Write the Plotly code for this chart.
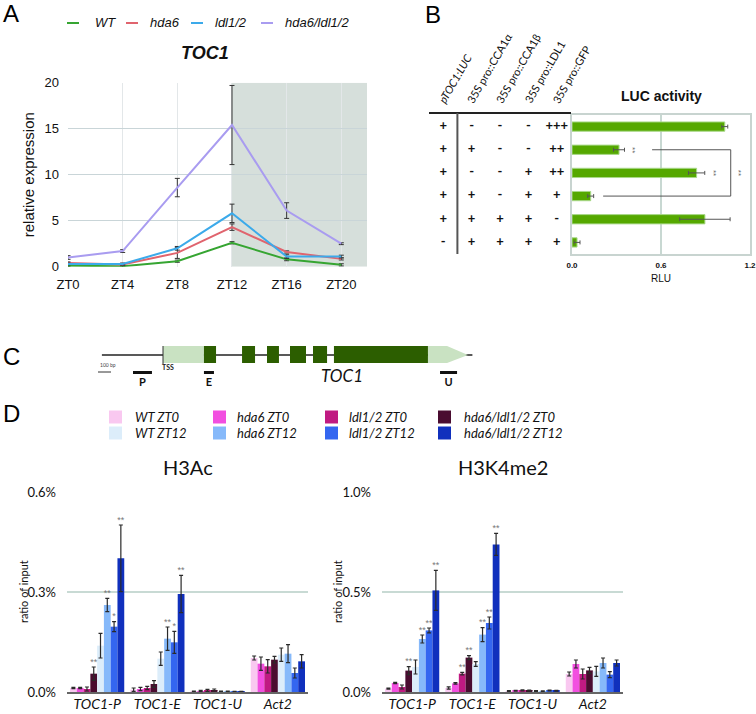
import plotly.graph_objects as go

W, H = 756, 714
def px(x): return x / W
def py(y): return 1 - y / H

# ---------------- Panel A data: TOC1 relative expression ----------------
zt_labels = ["ZT0", "ZT4", "ZT8", "ZT12", "ZT16", "ZT20"]
genotypes = ["WT", "hda6", "ldl1/2", "hda6/ldl1/2"]
toc1_wt = [0.1, 0.05, 0.6, 2.6, 0.8, 0.2]
toc1_wt_err = [0.1, 0.08, 0.12, 0.12, 0.15, 0.12]
toc1_hda6 = [0.4, 0.25, 1.5, 4.3, 1.6, 0.85]
toc1_hda6_err = [0.12, 0.1, 0.6, 0.35, 0.12, 0.12]
toc1_ldl = [0.3, 0.3, 2.0, 5.8, 1.1, 1.1]
toc1_ldl_err = [0.1, 0.1, 0.2, 1.0, 0.2, 0.15]
toc1_dbl = [1.0, 1.7, 8.6, 15.4, 6.1, 2.5]
toc1_dbl_err = [0.2, 0.15, 1.0, 4.3, 0.85, 0.1]
dark_start = 3  # ZT12 onwards shaded (dark period)

# ---------------- Panel B data: LUC activity ----------------
luc_columns = ["pTOC1:LUC", "35S pro::CCA1α", "35S pro::CCA1β", "35S pro::LDL1", "35S pro::GFP"]
luc_table = [
    ["+", "-", "-", "-", "+++"],
    ["+", "+", "-", "-", "++"],
    ["+", "-", "-", "+", "++"],
    ["+", "+", "-", "+", "+"],
    ["+", "+", "+", "+", "-"],
    ["-", "+", "+", "+", "+"],
]
luc_rlu = [1.03, 0.317, 0.84, 0.126, 0.896, 0.034]
luc_err = [0.02, 0.037, 0.055, 0.02, 0.17, 0.02]
luc_sig = ["", "**", "**", "", "", ""]
luc_ticks = [0.0, 0.6, 1.2]

# ---------------- Panel C data: TOC1 gene model (bp from TSS) ----------------
gene_span = (-470, 2380)
utr5 = (0, 315)
exons = [(315, 408), (608, 708), (800, 892), (977, 1100), (1154, 1262), (1315, 2038)]
utr3 = (2038, 2185, 2346)
amplicon_names = ["P", "E", "U"]
amplicon_start = [-231, 315, 2131]
amplicon_end = [-85, 392, 2262]
scale_bar = (-500, -400)

# ---------------- Panel D data: ChIP ratio of input (%) ----------------
regions = ["TOC1-P", "TOC1-E", "TOC1-U", "Act2"]
samples = ["WT ZT0", "hda6 ZT0", "ldl1/2 ZT0", "hda6/ldl1/2 ZT0",
           "WT ZT12", "hda6 ZT12", "ldl1/2 ZT12", "hda6/ldl1/2 ZT12"]
h3ac = [
    [0.012, 0.007, 0.002, 0.102],
    [0.012, 0.009, 0.003, 0.085],
    [0.009, 0.012, 0.005, 0.077],
    [0.055, 0.024, 0.006, 0.097],
    [0.139, 0.100, 0.002, 0.112],
    [0.261, 0.160, 0.002, 0.115],
    [0.196, 0.149, 0.001, 0.057],
    [0.401, 0.294, 0.001, 0.092],
]
h3ac_err = [
    [0.002, 0.005, 0.001, 0.006],
    [0.002, 0.005, 0.002, 0.020],
    [0.006, 0.005, 0.003, 0.020],
    [0.020, 0.010, 0.003, 0.010],
    [0.037, 0.020, 0.001, 0.020],
    [0.020, 0.035, 0.001, 0.027],
    [0.015, 0.033, 0.001, 0.015],
    [0.100, 0.056, 0.001, 0.020],
]
h3ac_sig = [
    ["", "", "", ""], ["", "", "", ""], ["", "", "", ""], ["**", "", "", ""],
    ["", "", "", ""], ["**", "**", "", ""], ["*", "*", "", ""], ["**", "**", "", ""],
]
h3k4 = [
    [0.017, 0.020, 0.005, 0.090],
    [0.045, 0.043, 0.006, 0.140],
    [0.025, 0.092, 0.008, 0.090],
    [0.107, 0.172, 0.007, 0.108],
    [0.125, 0.140, 0.005, 0.103],
    [0.265, 0.287, 0.004, 0.145],
    [0.308, 0.345, 0.008, 0.087],
    [0.508, 0.738, 0.006, 0.145],
]
h3k4_err = [
    [0.003, 0.006, 0.002, 0.010],
    [0.003, 0.004, 0.002, 0.020],
    [0.010, 0.006, 0.003, 0.025],
    [0.020, 0.010, 0.003, 0.015],
    [0.035, 0.012, 0.002, 0.025],
    [0.020, 0.035, 0.002, 0.025],
    [0.012, 0.030, 0.002, 0.015],
    [0.100, 0.055, 0.002, 0.015],
]
h3k4_sig = [
    ["", "", "", ""], ["", "", "", ""], ["", "**", "", ""], ["**", "**", "", ""],
    ["", "", "", ""], ["**", "**", "", ""], ["**", "**", "", ""], ["**", "**", "", ""],
]

# ---------------- styles ----------------
line_colors = ["#36a532", "#e0646e", "#3caaea", "#a99cf0"]
bar_colors = ["#f9c8f0", "#f24fe0", "#c01a82", "#4a0c30",
              "#dcedfa", "#86b9fa", "#3466f0", "#1030bd"]
GILL = "Lato"
ARIAL = "Liberation Sans, Arial"

fig = go.Figure()
shapes = []
ann = []

def pann(text, x, y, **kw):
    d = dict(text=text, x=px(x), y=py(y), xref="paper", yref="paper", showarrow=False,
             xanchor="center", yanchor="middle")
    d.update(kw)
    ann.append(d)

# ======== Panel A ========
series_A = [(toc1_wt, toc1_wt_err), (toc1_hda6, toc1_hda6_err),
            (toc1_ldl, toc1_ldl_err), (toc1_dbl, toc1_dbl_err)]
xA = list(range(len(zt_labels)))
for name, (vals, errs), col in zip(genotypes, series_A, line_colors):
    fig.add_trace(go.Scatter(
        x=xA, y=vals, mode="lines", name=name, line=dict(color=col, width=2),
        error_y=dict(type="data", array=errs, color="#333", thickness=1, width=2.5),
        xaxis="x", yaxis="y", showlegend=False, cliponaxis=False))
xA_max = 5.47
shapes.append(dict(type="rect", xref="x", yref="y", x0=dark_start, x1=xA_max, y0=0, y1=20,
                   fillcolor="#d6dfdb", line_width=0, layer="below"))
# legend (manual)
leg_line_x = [67, 126, 191, 261]
leg_text_x = [93, 148, 213, 283]
for name, col, lx, tx in zip(genotypes, line_colors, leg_line_x, leg_text_x):
    shapes.append(dict(type="line", xref="paper", yref="paper", x0=px(lx), x1=px(lx + 12),
                       y0=py(23), y1=py(23), line=dict(color=col, width=2)))
    pann(f"<i>{name}</i>", tx, 23, xanchor="left",
         font=dict(family=ARIAL, size=13, color="#111"))
pann("<b><i>TOC1</i></b>", 205, 53, font=dict(family=ARIAL, size=18, color="#111"))

# ======== Panel B ========
rows = list(range(len(luc_rlu)))
fig.add_trace(go.Bar(
    x=luc_rlu, y=rows, orientation="h", width=0.4,
    marker=dict(color="#55a800", line=dict(color="#a9d98a", width=1)),
    error_x=dict(type="data", array=luc_err, color="#555", thickness=1, width=2),
    xaxis="x2", yaxis="y2", showlegend=False))
for r, s in enumerate(luc_sig):
    if s:
        ann.append(dict(text=s, x=luc_rlu[r] + luc_err[r] + 0.055, y=r, xref="x2", yref="y2",
                        xanchor="center", yanchor="middle",
                        textangle=90, showarrow=False, font=dict(family=ARIAL, size=8, color="#666")))
shapes.append(dict(type="path", xref="x2", yref="y2",
                   path="M 0.54,1 L 1.07,1 L 1.07,3 L 0.21,3", line=dict(color="#555", width=1)))
ann.append(dict(text="**", x=1.12, y=2, xref="x2", yref="y2", textangle=90, showarrow=False,
                xanchor="center", yanchor="middle",
                font=dict(family=ARIAL, size=8, color="#666")))
pann("<b>LUC activity</b>", 661, 96, font=dict(family=ARIAL, size=14, color="#111"))
# table
tx, ty, tt = [], [], []
for r, row in enumerate(luc_table):
    for c, v in enumerate(row):
        tx.append(c); ty.append(r); tt.append(v)
fig.add_trace(go.Scatter(x=tx, y=ty, text=tt, mode="text", textposition="middle center",
                         textfont=dict(family=GILL, size=13, color="#111", weight="bold"),
                         xaxis="x6", yaxis="y2", showlegend=False, hoverinfo="skip"))
for c, lab in enumerate(luc_columns):
    txt = f"<i>{lab}</i>" if c == 0 else lab
    ann.append(dict(text=txt, x=c, xref="x6", y=py(108), yref="paper", xanchor="left",
                    yanchor="bottom", textangle=-60, showarrow=False, xshift=-10,
                    font=dict(family=GILL, size=11, color="#111")))
shapes.append(dict(type="line", xref="x6 domain", yref="paper", x0=0, x1=1, y0=py(113), y1=py(113),
                   line=dict(color="#222", width=2)))
shapes.append(dict(type="line", xref="x6", yref="paper", x0=0.5, x1=0.5, y0=py(113), y1=py(254),
                   line=dict(color="#555", width=2)))

# ======== Panel C ========
yC_line, yC_lo, yC_hi = 37, 29, 46
shapes.append(dict(type="line", xref="x3", yref="y3", x0=gene_span[0], x1=gene_span[1],
                   y0=yC_line, y1=yC_line, line=dict(color="#222", width=1.3)))
shapes.append(dict(type="rect", xref="x3", yref="y3", x0=utr5[0], x1=utr5[1], y0=yC_lo, y1=yC_hi,
                   fillcolor="#c9e2c2", line_width=0))
shapes.append(dict(type="path", xref="x3", yref="y3",
                   path=f"M {utr3[0]},{yC_lo} L {utr3[1]},{yC_lo} L {utr3[2]},{yC_line} "
                        f"L {utr3[1]},{yC_hi} L {utr3[0]},{yC_hi} Z",
                   fillcolor="#c9e2c2", line_width=0))
for a, b in exons:
    shapes.append(dict(type="rect", xref="x3", yref="y3", x0=a, x1=b, y0=yC_lo, y1=yC_hi,
                       fillcolor="#2c5e00", line_width=0))
shapes.append(dict(type="line", xref="x3", yref="y3", x0=0, x1=0, y0=yC_lo - 1, y1=yC_hi,
                   line=dict(color="#333", width=1)))
for a, b in zip(amplicon_start, amplicon_end):
    shapes.append(dict(type="rect", xref="x3", yref="y3", x0=a, x1=b, y0=18, y1=21,
                       fillcolor="#111", line_width=0))
shapes.append(dict(type="line", xref="x3", yref="y3", x0=scale_bar[0], x1=scale_bar[1], y0=20, y1=20,
                   line=dict(color="#333", width=1)))
fig.add_trace(go.Scatter(
    x=[(a + b) / 2 for a, b in zip(amplicon_start, amplicon_end)], y=[9] * 3,
    text=[f"<b>{n}</b>" for n in amplicon_names], mode="text",
    textfont=dict(family=GILL, size=11, color="#111"),
    xaxis="x3", yaxis="y3", showlegend=False, hoverinfo="skip"))
ann.append(dict(text="<b>TSS</b>", x=0, y=25, xref="x3", yref="y3", xanchor="left",
                yanchor="middle", showarrow=False,
                xshift=-3, font=dict(family=GILL, size=7, color="#222")))
ann.append(dict(text="100 bp", x=scale_bar[0], y=27, xref="x3", yref="y3", xanchor="left",
                yanchor="middle", showarrow=False, font=dict(family=GILL, size=5, color="#444")))
pann("<i>TOC1</i>", 342, 375, font=dict(family=GILL, size=17, color="#111"))

# ======== Panel D ========
bw = 0.9 / len(samples)
for axn, data, errs, sigs in [("4", h3ac, h3ac_err, h3ac_sig), ("5", h3k4, h3k4_err, h3k4_sig)]:
    for j, smp in enumerate(samples):
        xs = [g + (j - 3.5) * bw for g in range(len(regions))]
        fig.add_trace(go.Bar(
            x=xs, y=data[j], width=bw, name=smp, marker=dict(color=bar_colors[j], line_width=0),
            error_y=dict(type="data", array=errs[j], color="#2a2a2a", thickness=1.2, width=2),
            xaxis="x" + axn, yaxis="y" + axn, showlegend=False))
        sx = [x for x, s in zip(xs, sigs[j]) if s]
        sy = [v + e for v, e, s in zip(data[j], errs[j], sigs[j]) if s]
        st = [s for s in sigs[j] if s]
        if st:
            fig.add_trace(go.Scatter(x=sx, y=sy, text=st, mode="text", textposition="top center",
                                     textfont=dict(family=ARIAL, size=9, color="#777"),
                                     xaxis="x" + axn, yaxis="y" + axn, showlegend=False,
                                     cliponaxis=False, hoverinfo="skip"))
# legend (manual)
leg_sw_x = [109, 213, 325, 438]
leg_tx_x = [133, 235, 347, 462]
for j, smp in enumerate(samples):
    col = j % 4
    row = j // 4
    yc = 417 + row * 16
    shapes.append(dict(type="rect", xref="paper", yref="paper", x0=px(leg_sw_x[col]),
                       x1=px(leg_sw_x[col] + 13), y0=py(yc + 6.5), y1=py(yc - 6.5),
                       fillcolor=bar_colors[j], line_width=0))
    pann(f"<i>{smp}</i>", leg_tx_x[col], yc, xanchor="left",
         font=dict(family=GILL, size=13, color="#111"))
pann("H3Ac", 188, 467, font=dict(family=GILL, size=20, color="#111"))
pann("H3K4me2", 503, 467, font=dict(family=GILL, size=20, color="#111"))
for xx in [23, 337]:
    pann("ratio of input", xx, 592, textangle=-90, font=dict(family=GILL, size=11, color="#111"))

# panel letters
for L, (lx, ly) in zip("ABCD", [(11, 13), (433, 14), (11, 356), (11, 413)]):
    pann(L, lx, ly, font=dict(family=ARIAL, size=24, color="#000"))

ticks_D = [f"<i>{r}</i>" for r in regions]
common_xD = dict(range=[-0.5, 3.5], tickvals=list(range(4)), ticktext=ticks_D, showline=True,
                 linecolor="#666", linewidth=2, ticks="", showgrid=False, zeroline=False,
                 tickfont=dict(family=GILL, size=14, color="#111"), ticklabelstandoff=-2,
                 ticklabeloverflow="allow", automargin=False)
common_yD = dict(showgrid=True, gridcolor="#c8dad4", gridwidth=1.5, zeroline=False, showline=False,
                 ticks="", tickfont=dict(family=GILL, size=13, color="#111"), ticklabelstandoff=10,
                 automargin=False)

fig.update_layout(
    width=W, height=H, autosize=False, margin=dict(l=0, r=0, t=0, b=0, autoexpand=False),
    paper_bgcolor="white", plot_bgcolor="rgba(0,0,0,0)", barmode="overlay",
    font=dict(family=ARIAL, color="#111"),
    shapes=shapes, annotations=ann, showlegend=False,
    xaxis=dict(domain=[px(68), px(367)], range=[0, xA_max], tickvals=xA, ticktext=zt_labels,
               showgrid=True, gridcolor="#e3e7e9", zeroline=False, showline=False, ticks="",
               tickfont=dict(size=13), anchor="y", ticklabelstandoff=8, automargin=False),
    yaxis=dict(domain=[py(266.7), py(82.7)], range=[0, 20], tickvals=[0, 5, 10, 15, 20],
               gridcolor="#c9d5d8", zeroline=False, showline=False, ticks="", anchor="x",
               tickfont=dict(size=13), ticklabelstandoff=8, automargin=False,
               title=dict(text="relative expression", font=dict(size=15), standoff=6)),
    xaxis2=dict(domain=[px(572), px(750)], range=[0, 1.2], anchor="y2", tickvals=luc_ticks,
                ticktext=[f"{t:.1f}" for t in luc_ticks], tickfont=dict(size=8, weight="bold"),
                showline=True, mirror=True, linecolor="#c8d4d0", linewidth=1.5,
                gridcolor="#c8d8d2", gridwidth=2, zeroline=False, ticks="", ticklabelstandoff=3,
                ticklabeloverflow="allow",
                automargin=False, title=dict(text="RLU", font=dict(size=10), standoff=6)),
    yaxis2=dict(domain=[py(254), py(115)], range=[5.5, -0.5], anchor="x2", showticklabels=False,
                showgrid=False, zeroline=False, showline=True, mirror=True, linecolor="#c8d4d0",
                linewidth=1.5, ticks="", automargin=False),
    xaxis6=dict(domain=[px(429), px(571)], range=[-0.5, 4.5], anchor="y2", visible=False),
    xaxis3=dict(domain=[px(98), px(475)], range=[-500, 2400], anchor="y3", visible=False),
    yaxis3=dict(domain=[py(392), py(340)], range=[0, 52], anchor="x3", visible=False),
    xaxis4=dict(domain=[px(67), px(308)], anchor="y4", **common_xD),
    yaxis4=dict(domain=[py(692), py(492)], range=[0, 0.6], anchor="x4", tickvals=[0, 0.3, 0.6],
                ticktext=["0.0%", "0.3%", "0.6%"], **common_yD),
    xaxis5=dict(domain=[px(382), px(623)], anchor="y5", **common_xD),
    yaxis5=dict(domain=[py(692), py(492)], range=[0, 1.0], anchor="x5", tickvals=[0, 0.5, 1.0],
                ticktext=["0.0%", "0.5%", "1.0%"], **common_yD),
)

fig.write_html("out.html", config={"displayModeBar": False},
               post_script="document.body.style.margin='0px';")
